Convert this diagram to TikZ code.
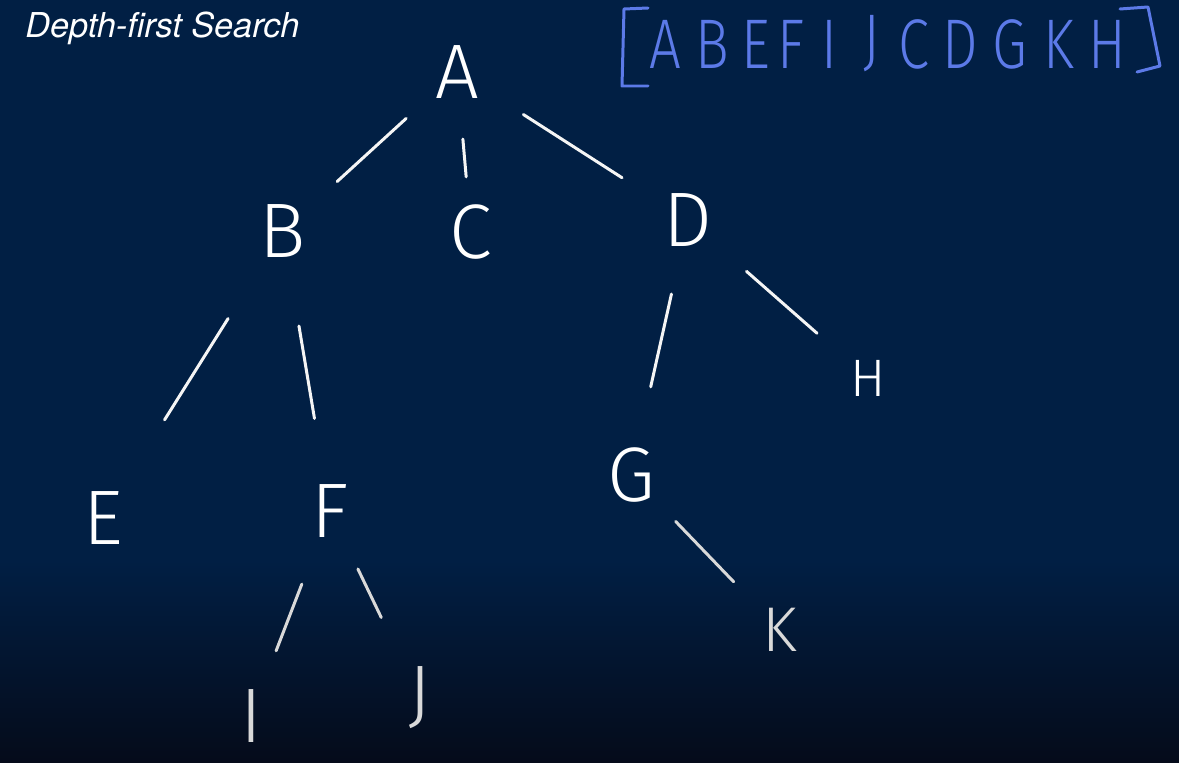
\documentclass[tikz,border=0pt]{standalone}
\usepackage{fontspec}
\usepackage{graphicx}
\newfontfamily\handfont{Fira Sans Light}
\newfontfamily\titlefont{TeX Gyre Heros}
\definecolor{navy}{RGB}{1,31,68}
\definecolor{navydark}{RGB}{5,11,26}
\definecolor{listblue}{RGB}{92,122,232}
\newcommand{\narrow}[1]{\scalebox{0.8}[1]{#1}}

\begin{document}
\begin{tikzpicture}[x=0.02cm, y=-0.02cm,
    vertex/.style={circle, inner sep=0pt, minimum size=2.2cm, text=white,
        font=\handfont\fontsize{44}{44}\selectfont},
    edge/.style={draw=white!92!gray, line width=1.7pt, line cap=round},
    listletter/.style={inner sep=0pt, text=listblue,
        font=\handfont\fontsize{40}{40}\selectfont},
    listpen/.style={draw=listblue, line width=1.7pt, line cap=round, line join=round}]

% Background
\useasboundingbox (0,0) rectangle (1179,763);
\fill[navy] (0,0) rectangle (1179,560);
\shade[top color=navy, bottom color=navydark] (0,560) rectangle (1179,763);

% Title
\node[anchor=west, inner sep=0pt, text=white, font=\titlefont\itshape\fontsize{19.5}{19.5}\selectfont]
    (title) at (25,28) {Depth-first Search};

% Visiting order
\draw[listpen] (648,8) -- (624,9) -- (622,86) -- (648,86);
\draw[listpen] (1120,9) -- (1148,7) -- (1160,66) -- (1137,72);
\foreach \x/\ch in {665/A, 712/B, 756/E, 791/F, 829/I, 872/J, 914/C, 960/D, 1010/G, 1059/K, 1107/H} {
    \node[listletter] (L\ch) at (\x,44) {\narrow{\ch}};
}

% Tree nodes
\node[vertex] (A) at (457,72) {A};
\node[vertex] (B) at (283,231) {B};
\node[vertex] (C) at (471,232) {C};
\node[vertex] (D) at (688,220) {D};
\node[vertex] (E) at (103,518) {E};
\node[vertex] (F) at (330,511) {F};
\node[vertex] (G) at (631,475) {G};
\node[vertex, font=\handfont\fontsize{30}{30}\selectfont] (H) at (868,378) {H};
\node[vertex, text=white!85!black] (I) at (251,716) {I};
\node[vertex, text=white!85!black] (J) at (420,698) {J};
\node[vertex, text=white!85!black, font=\handfont\fontsize{36}{36}\selectfont] (K) at (780,630) {K};

% Tree edges
\draw[edge, shorten <=0.27cm, shorten >=0.36cm] (A) -- (B);
\draw[edge, shorten <=0.24cm] (A) -- (C);
\draw[edge, shorten <=0.47cm, shorten >=0.46cm] (A) -- (D);
\draw[edge, shorten <=0.96cm, shorten >=1.21cm] (B) -- (E);
\draw[edge, shorten <=0.82cm, shorten >=0.77cm] (B) -- (F);
\draw[edge, shorten <=0.41cm, shorten >=0.70cm] (D) -- (G);
\draw[edge, shorten <=0.45cm, shorten >=0.25cm] (D) -- (H);
\draw[edge, draw=white!85!black, shorten <=0.46cm, shorten >=0.29cm] (F) -- (I);
\draw[edge, draw=white!85!black, shorten <=0.18cm, shorten >=0.68cm] (F) -- (J);
\draw[edge, draw=white!85!black, shorten <=0.18cm, shorten >=0.23cm] (G) -- (K);

\end{tikzpicture}
\end{document}
